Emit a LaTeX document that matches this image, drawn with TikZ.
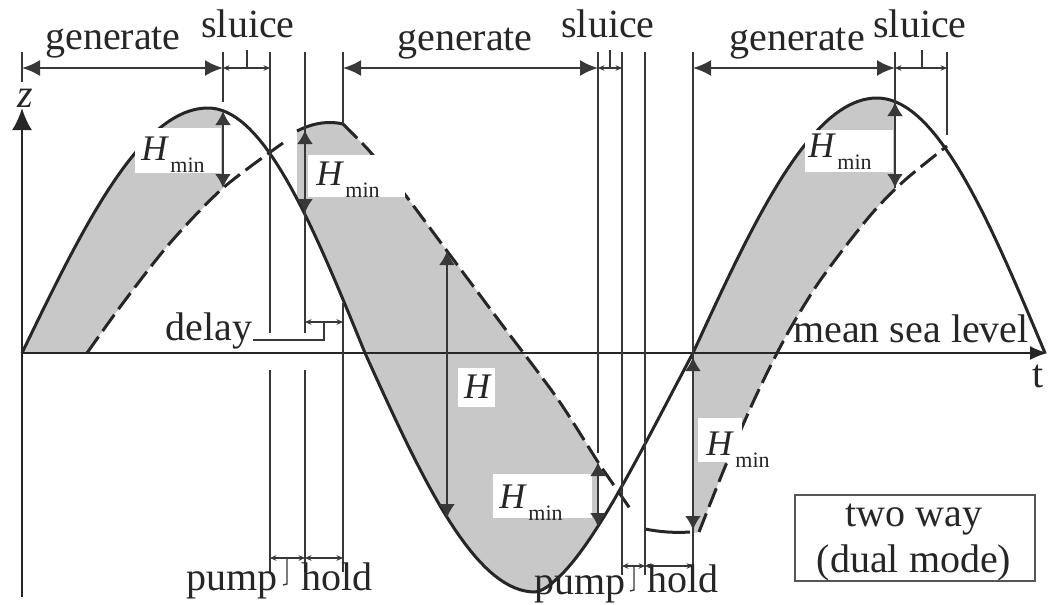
\documentclass[tikz,border=0pt]{standalone}
\usepackage{fontspec}
\setmainfont{Liberation Serif}
\usetikzlibrary{arrows.meta}
\definecolor{ink}{HTML}{262626}
\definecolor{vline}{HTML}{383838}
\definecolor{boxline}{HTML}{555555}
\definecolor{shadegray}{HTML}{C8C8C8}
\newcommand{\Hmin}{{\fontsize{18}{20}\selectfont\itshape H}\kern1.5pt\raisebox{-6pt}{\fontsize{11}{12}\selectfont min}}
\tikzset{
  lbl/.style={inner sep=0pt, font=\fontsize{20}{24}\selectfont, text=ink},
  curve/.style={draw=ink, line width=1.5pt, line join=round},
  basin/.style={draw=ink, line width=1.5pt, dash pattern=on 10pt off 3.5pt},
  vl/.style={draw=vline, line width=1.1pt},
  hm/.style={draw=vline, line width=1.1pt, -{Latex[length=7pt,width=8pt]}},
  dimbig/.style={draw=vline, line width=1.1pt, {Latex[length=9pt,width=8pt]}-{Latex[length=9pt,width=8pt]}},
  dimsmall/.style={draw=vline, line width=0.7pt, {Stealth[length=3.2pt,width=2.8pt]}-{Stealth[length=3.2pt,width=2.8pt]}},
  thinl/.style={draw=vline, line width=0.7pt},
  whitebox/.style={fill=white, draw=none},
}
\begin{document}
\begin{tikzpicture}[x=0.5pt,y=-0.5pt]
\useasboundingbox (0,0) rectangle (1050,605);
% ---------- grey regions ----------
\fill[shadegray] plot[domain=22:208,samples=40] (\x,{353-245*sin(90*((\x-22)/186))})
  -- plot[domain=208:223,samples=5] (\x,{353-245*cos(90*((\x-208)/157))})
  -- (223,188) -- plot[smooth] coordinates {(223,188) (170,243) (123,303) (87,353)} -- cycle;
\fill[shadegray] (297,131) .. controls (315,122) and (330,121) .. (343,124)
  -- plot[smooth] coordinates {(343,124) (358,139) (372,154) (403,192) (447,251) (500,322) (557,398) (598,462)}
  -- (598,528)
  -- plot[domain=598:535.2,samples=20] (\x,{353+239*cos(90*pow((\x-535)/158,0.79))})
  -- plot[domain=535:365,samples=35] (\x,{353+239*sin(90*((\x-365)/170))})
  -- plot[domain=365:297,samples=25] (\x,{353-245*cos(90*((\x-208)/157))}) -- cycle;
\fill[shadegray] (693,353) -- plot[domain=693:877,samples=40] (\x,{353-255*sin(90*((\x-693)/184))})
  -- plot[domain=877:895,samples=5] (\x,{353-255*cos(90*((\x-877)/168))})
  -- (895,188) -- plot[smooth] coordinates {(895,188) (875,210) (845,247) (815,288) (785,338) (755,398) (725,467) (699,532)}
  -- (693,533) -- cycle;
% ---------- axes ----------
\draw[draw=ink, line width=1.2pt, -{Latex[length=11pt,width=10pt]}] (22,597) -- (22,108);
\draw[draw=ink, line width=1.2pt, -{Latex[length=9pt,width=7pt]}] (22,353) -- (1048,353);
% ---------- sea level (solid) ----------
\draw[curve] plot[domain=22:208,samples=40] (\x,{353-245*sin(90*((\x-22)/186))})
  -- plot[domain=208:365,samples=35] (\x,{353-245*cos(90*((\x-208)/157))})
  -- plot[domain=365:535,samples=35] (\x,{353+239*sin(90*((\x-365)/170))})
  -- plot[domain=535.2:693,samples=40] (\x,{353+239*cos(90*pow((\x-535)/158,0.79))})
  -- plot[domain=693:877,samples=40] (\x,{353-255*sin(90*((\x-693)/184))})
  -- plot[domain=877:1045,samples=35] (\x,{353-255*cos(90*((\x-877)/168))});
% ---------- basin level (dashed) ----------
\draw[basin] plot[smooth] coordinates {(87,353) (123,303) (170,243) (223,188) (283,143)};
\draw[curve] (297,131) .. controls (315,122) and (330,121) .. (343,124);
\draw[basin] plot[smooth] coordinates {(343,124) (358,139) (372,154) (403,192) (447,251) (500,322) (557,398) (598,462) (620,494) (633,513)};
\draw[curve] (645,529) .. controls (660,532) and (675,533) .. (690,532);
\draw[basin] plot[smooth] coordinates {(699,532) (725,467) (755,398) (785,338) (815,288) (845,247) (875,210) (905,180) (947,146)};
% ---------- label backgrounds ----------
\fill[whitebox] (135,128) rectangle (221,173);
\fill[whitebox] (308,155) rectangle (405,197);
\fill[whitebox] (493,474) rectangle (592,518);
\fill[whitebox] (805,130) rectangle (893,172);
\fill[whitebox] (698,418) rectangle (742,462);
\fill[whitebox] (458,368) rectangle (495,407);
% ---------- vertical lines ----------
\draw[vl] (22,52) -- (22,82);
\draw[vl] (223,52) -- (223,102);
\draw[vl] (270,52) -- (270,333);
\draw[vl] (270,370) -- (270,572);
\draw[vl] (305,52) -- (305,333);
\draw[vl] (305,370) -- (305,572);
\draw[vl] (343,52) -- (343,124);
\draw[vl] (343,303) -- (343,572);
\draw[vl] (598,52) -- (598,453);
\draw[vl] (622,52) -- (622,575);
\draw[vl] (645,52) -- (645,575);
\draw[vl] (693,52) -- (693,575);
\draw[vl] (895,52) -- (895,188);
\draw[vl] (947,52) -- (947,135);
% ---------- head arrows ----------
\draw[hm] (223,150) -- (223,111);
\draw[hm] (223,150) -- (223,188);
\draw[hm] (305,170) -- (305,130);
\draw[hm] (305,170) -- (305,213);
\draw[hm] (447,385) -- (447,251);
\draw[hm] (447,385) -- (447,518);
\draw[hm] (598,495) -- (598,462);
\draw[hm] (598,495) -- (598,527);
\draw[hm] (693,445) -- (693,357);
\draw[hm] (693,445) -- (693,530);
\draw[hm] (895,145) -- (895,102);
\draw[hm] (895,145) -- (895,188);
% ---------- time-span arrows ----------
\draw[dimbig] (22,68) -- (223,68);
\draw[dimsmall] (223,68) -- (270,68);
\draw[thinl] (247,50) -- (247,68);
\draw[dimbig] (343,68) -- (598,68);
\draw[dimsmall] (598,68) -- (622,68);
\draw[thinl] (610,50) -- (610,68);
\draw[dimbig] (693,68) -- (895,68);
\draw[dimsmall] (895,68) -- (947,68);
\draw[thinl] (922,50) -- (922,68);
\draw[dimsmall] (305,322) -- (343,322);
\draw[thinl] (324,322) -- (324,340) -- (253,340);
\draw[dimsmall] (270,558) -- (305,558);
\draw[dimsmall] (305,558) -- (343,558);
\draw[thinl] (287,558) -- (287,584) -- (283,585);
\draw[dimsmall] (622,566) -- (645,566);
\draw[dimsmall] (645,566) -- (693,566);
\draw[thinl] (634,566) -- (634,590) -- (630,591);
% ---------- legend box ----------
\draw[draw=boxline, line width=1.2pt] (795,495) rectangle (1035,581);
% ---------- texts ----------
\node[lbl,anchor=base] (g1) at (113,49) {generate};
\node[lbl,anchor=base] (s1) at (248,37) {sluice};
\node[lbl,anchor=base] (g2) at (465,50) {generate};
\node[lbl,anchor=base] (s2) at (608,38) {sluice};
\node[lbl,anchor=base] (g3) at (797,50) {generate};
\node[lbl,anchor=base] (s3) at (920,37) {sluice};
\node[lbl,anchor=base] (dl) at (209,340) {delay};
\node[lbl,anchor=base] (msl) at (911,342) {mean sea level};
\node[lbl,anchor=base] (tl) at (1038,387) {t};
\node[lbl,anchor=base] (zl) at (25,107) {\textit{z}};
\node[lbl,anchor=base] (p1) at (232,590) {pump};
\node[lbl,anchor=base] (h1) at (337,590) {hold};
\node[lbl,anchor=base] (p2) at (580,594) {pump};
\node[lbl,anchor=base] (h2) at (683,592) {hold};
\node[lbl,anchor=base] (tw) at (914,526) {two way};
\node[lbl,anchor=base] (dm) at (914,572) {(dual mode)};
\node[lbl,anchor=base west] (hm1) at (141,160) {\Hmin};
\node[lbl,anchor=base west] (hm2) at (316,185) {\Hmin};
\node[lbl,anchor=base west] (hm3) at (499,508) {\Hmin};
\node[lbl,anchor=base west] (hm4) at (808,157) {\Hmin};
\node[lbl,anchor=base west] (hm5) at (706,455) {\Hmin};
\node[lbl,anchor=base] (hh) at (477,398) {\fontsize{18}{20}\selectfont\itshape H};
\end{tikzpicture}
\end{document}
